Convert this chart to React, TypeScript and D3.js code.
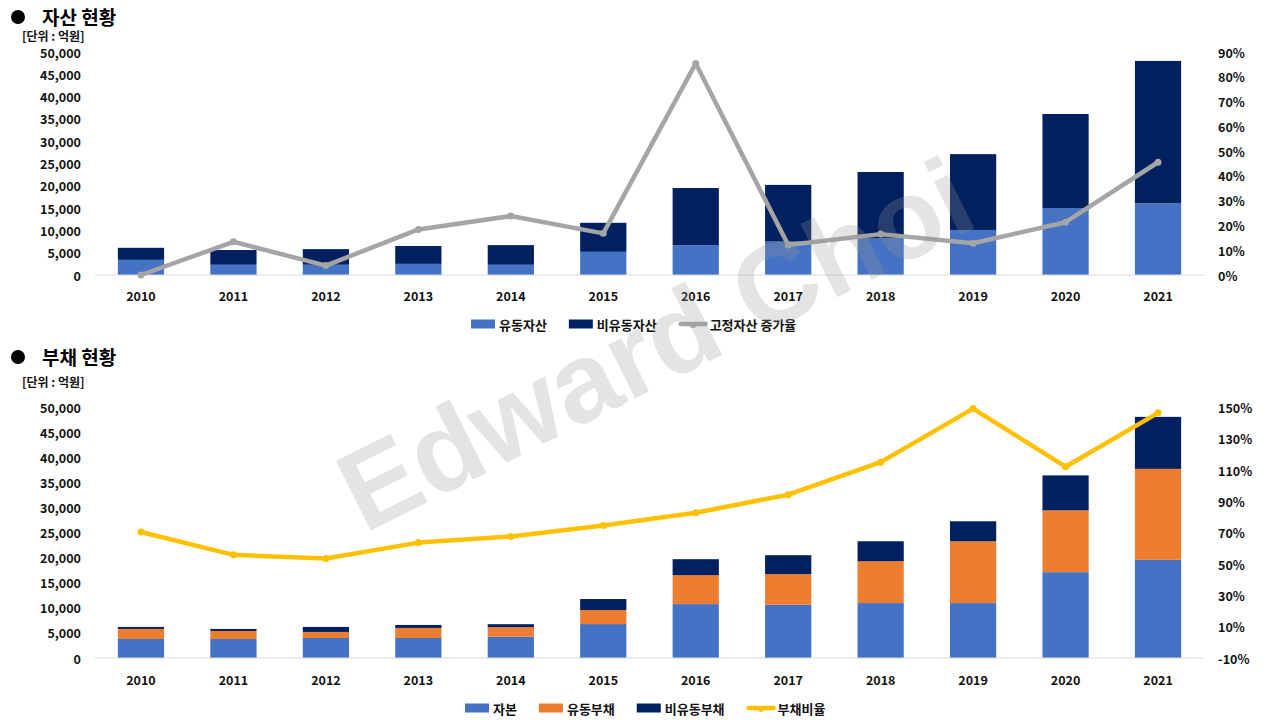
import React, { useEffect, useRef } from "react";
import * as d3 from "d3";

// 연도
const years = ["2010", "2011", "2012", "2013", "2014", "2015", "2016", "2017", "2018", "2019", "2020", "2021"];

// 자산 현황 (억원)
const currentAssets = [3400, 2300, 2300, 2500, 2300, 5200, 6700, 7500, 8200, 10100, 15000, 16100];
const nonCurrentAssets = [2700, 3300, 3500, 4000, 4400, 6500, 12800, 12700, 14900, 17000, 21100, 31900];
// 고정자산 증가율 (%)
const fixedAssetGrowth = [0, 13.4, 3.8, 18.4, 23.8, 16.8, 85.4, 12.1, 16.5, 12.8, 21.3, 45.5];

// 부채 현황 (억원)
const equity = [3800, 3800, 4000, 4000, 4250, 6770, 10760, 10620, 10960, 10960, 17130, 19600];
const currentLiabilities = [2000, 1600, 1200, 2000, 1900, 2800, 5770, 6110, 8360, 12340, 12350, 18150];
const nonCurrentLiabilities = [400, 400, 1000, 600, 600, 2200, 3190, 3790, 3980, 3990, 6970, 10380];
// 부채비율 (%)
const debtRatio = [70.5, 55.9, 53.5, 63.7, 67.6, 74.6, 82.8, 94.3, 115.1, 149.3, 112.2, 146.6];

const amountTicks = d3.range(0, 50001, 5000);
const growthTicks = d3.range(0, 91, 10);
const ratioTicks = d3.range(-10, 151, 20);

const FONT = "'Noto Sans CJK KR', 'Malgun Gothic', sans-serif";
const BLUE = "#4472c4";
const NAVY = "#002060";
const ORANGE = "#ed7d31";
const GRAY = "#a5a5a5";
const YELLOW = "#ffc000";

type Panel = {
  top: number;
  bottom: number;
  title: string;
  titleY: number;
  unitY: number;
  series: { name: string; values: number[]; color: string }[];
  line: { name: string; values: number[]; color: string };
  rightDomain: [number, number];
  rightTicks: number[];
  yearY: number;
  legendY: number;
  legendX: number;
};

const App: React.FC = () => {
  const svgRef = useRef<SVGSVGElement | null>(null);

  useEffect(() => {
    if (!svgRef.current) return;
    const svg = d3.select(svgRef.current);
    svg.selectAll("*").remove();

    const x = d3
      .scaleBand<string>()
      .domain(years)
      .range([94.75, 1204.25])
      .paddingInner(0.5)
      .paddingOuter(0.25);

    const panels: Panel[] = [
      {
        top: 52,
        bottom: 275,
        title: "자산 현황",
        titleY: 16,
        unitY: 35.5,
        series: [
          { name: "유동자산", values: currentAssets, color: BLUE },
          { name: "비유동자산", values: nonCurrentAssets, color: NAVY },
        ],
        line: { name: "고정자산 증가율", values: fixedAssetGrowth, color: GRAY },
        rightDomain: [0, 90],
        rightTicks: growthTicks,
        yearY: 295,
        legendY: 324,
        legendX: 471,
      },
      {
        top: 407.5,
        bottom: 658,
        title: "부채 현황",
        titleY: 356,
        unitY: 381,
        series: [
          { name: "자본", values: equity, color: BLUE },
          { name: "유동부채", values: currentLiabilities, color: ORANGE },
          { name: "비유동부채", values: nonCurrentLiabilities, color: NAVY },
        ],
        line: { name: "부채비율", values: debtRatio, color: YELLOW },
        rightDomain: [-10, 150],
        rightTicks: ratioTicks,
        yearY: 679,
        legendY: 708,
        legendX: 465,
      },
    ];

    panels.forEach((p) => {
      const y = d3.scaleLinear().domain([0, 50000]).range([p.bottom, p.top]);
      const yR = d3.scaleLinear().domain(p.rightDomain).range([p.bottom, p.top]);
      const g = svg.append("g").style("font-family", FONT);

      // title
      g.append("circle").attr("cx", 18).attr("cy", p.titleY + 1).attr("r", 7).attr("fill", "#000");
      g.append("text")
        .attr("x", 42)
        .attr("y", p.titleY)
        .attr("dominant-baseline", "central")
        .attr("font-size", 19)
        .attr("font-weight", 700)
        .text(p.title);
      g.append("text")
        .attr("x", 22)
        .attr("y", p.unitY)
        .attr("dominant-baseline", "central")
        .attr("font-size", 12)
        .attr("font-weight", 700)
        .attr("fill", "#111")
        .text("[단위 : 억원]");

      // left axis labels
      g.append("g")
        .selectAll("text")
        .data(amountTicks)
        .join("text")
        .attr("x", 81)
        .attr("y", (d) => y(d))
        .attr("text-anchor", "end")
        .attr("dominant-baseline", "central")
        .attr("font-size", 12.5)
        .attr("font-weight", 700)
        .attr("fill", "#111")
        .text((d) => d3.format(",")(d));

      // right axis labels
      g.append("g")
        .selectAll("text")
        .data(p.rightTicks)
        .join("text")
        .attr("x", 1218)
        .attr("y", (d) => yR(d))
        .attr("dominant-baseline", "central")
        .attr("font-size", 12.5)
        .attr("font-weight", 700)
        .attr("fill", "#111")
        .text((d) => `${d}%`);

      // stacked bars
      const rows = years.map((yr, i) => {
        const r: Record<string, number | string> = { year: yr };
        p.series.forEach((s) => (r[s.name] = s.values[i]));
        return r;
      });
      const stack = d3.stack<Record<string, number | string>>().keys(p.series.map((s) => s.name));
      const layers = stack(rows as any);
      layers.forEach((layer, li) => {
        g.append("g")
          .attr("fill", p.series[li].color)
          .selectAll("rect")
          .data(layer)
          .join("rect")
          .attr("x", (d) => x(d.data.year as string) || 0)
          .attr("width", x.bandwidth())
          .attr("y", (d) => y(d[1]))
          .attr("height", (d) => y(d[0]) - y(d[1]));
      });

      // baseline
      g.append("line")
        .attr("x1", x.range()[0])
        .attr("x2", x.range()[1])
        .attr("y1", p.bottom)
        .attr("y2", p.bottom)
        .attr("stroke", "#d9d9d9")
        .attr("stroke-width", 1);

      // year labels
      g.append("g")
        .selectAll("text")
        .data(years)
        .join("text")
        .attr("x", (d) => (x(d) || 0) + x.bandwidth() / 2)
        .attr("y", p.yearY)
        .attr("text-anchor", "middle")
        .attr("dominant-baseline", "central")
        .attr("font-size", 12.5)
        .attr("font-weight", 700)
        .attr("fill", "#111")
        .text((d) => d);

      // line
      const cx = (i: number) => (x(years[i]) || 0) + x.bandwidth() / 2;
      const line = d3
        .line<number>()
        .x((_, i) => cx(i))
        .y((d) => yR(d));
      g.append("path")
        .datum(p.line.values)
        .attr("fill", "none")
        .attr("stroke", p.line.color)
        .attr("stroke-width", 4.5)
        .attr("stroke-linejoin", "round")
        .attr("d", line);
      g.append("g")
        .selectAll("circle")
        .data(p.line.values)
        .join("circle")
        .attr("cx", (_, i) => cx(i))
        .attr("cy", (d) => yR(d))
        .attr("r", 3.5)
        .attr("fill", p.line.color);

      // legend
      const lg = g.append("g").attr("transform", `translate(${p.legendX},${p.legendY})`);
      let lx = 0;
      p.series.forEach((s) => {
        lg.append("rect").attr("x", lx).attr("y", -4.5).attr("width", 24).attr("height", 9).attr("fill", s.color);
        const t = lg
          .append("text")
          .attr("x", lx + 28)
          .attr("y", 0)
          .attr("dominant-baseline", "central")
          .attr("font-size", 13)
          .attr("font-weight", 700)
          .attr("fill", "#111")
          .text(s.name);
        const w = (t.node() as SVGTextElement).getComputedTextLength();
        lx += 28 + w + 22;
      });
      lg.append("line")
        .attr("x1", lx + 2)
        .attr("x2", lx + 27)
        .attr("y1", 0)
        .attr("y2", 0)
        .attr("stroke", p.line.color)
        .attr("stroke-width", 4.5)
        .attr("stroke-linecap", "round");
      lg.append("circle").attr("cx", lx + 14.5).attr("cy", 1).attr("r", 3).attr("fill", p.line.color);
      lg.append("text")
        .attr("x", lx + 31)
        .attr("y", 0)
        .attr("dominant-baseline", "central")
        .attr("font-size", 13)
        .attr("font-weight", 700)
        .attr("fill", "#111")
        .text(p.line.name);
    });

    // watermark
    svg
      .append("text")
      .attr("transform", "translate(364,534) rotate(-26.6)")
      .attr("font-family", "'Liberation Sans', Arial, sans-serif")
      .attr("font-weight", 700)
      .attr("font-size", 113)
      .attr("fill", "#989898")
      .attr("fill-opacity", 0.26)
      .text("Edward Choi");
  }, []);

  return (
    <div style={{ position: "fixed", left: 0, top: 0, width: 1280, height: 720, background: "#fff" }}>
      <svg ref={svgRef} width={1280} height={720} style={{ display: "block" }} />
    </div>
  );
};

export default App;
